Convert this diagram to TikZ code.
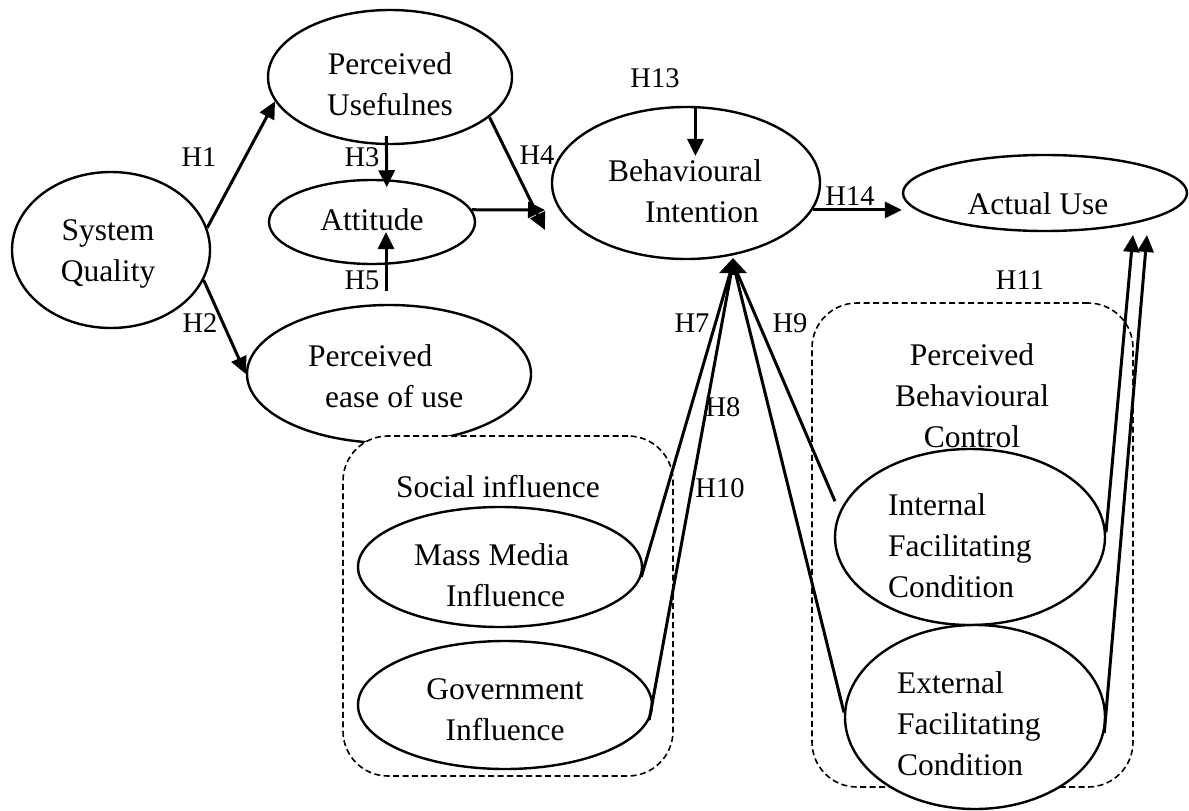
\documentclass[tikz,border=0pt]{standalone}
\usepackage{fontspec}
\setmainfont{Liberation Serif}
\usetikzlibrary{shapes.geometric,arrows.meta,calc}
\newcommand{\bodyfnt}{\fontsize{31.5}{41}\selectfont}
\newcommand{\hypfnt}{\fontsize{28.5}{32}\selectfont}
\begin{document}
\begin{tikzpicture}[x=1pt,y=-1pt,
  ell/.style={draw, ellipse, line width=2.4pt, fill=white, inner sep=0pt},
  dbox/.style={draw, rectangle, dash pattern=on 6pt off 3.5pt, line width=1.6pt, rounded corners=45pt, fill=white, inner sep=0pt},
  txt/.style={font=\bodyfnt, align=center, inner sep=0pt},
  txtl/.style={font=\bodyfnt, align=left, inner sep=0pt, anchor=west},
  hyp/.style={font=\hypfnt, inner sep=0pt},
  ln/.style={line width=3pt},
  arr/.style={line width=3pt, -{Triangle[length=17pt,width=16pt]}},
  fanhead/.style={line width=3pt, -{Triangle[length=15pt,width=27pt]}}
]
\useasboundingbox (0,0) rectangle (1189,811);
% ellipses and groups
\node[ell, minimum width=198pt, minimum height=156pt] (sq) at (111,250) {};
\node[ell, minimum width=244pt, minimum height=134pt] (pu) at (390,77) {};
\node[ell, minimum width=206pt, minimum height=84pt] (att) at (372,222) {};
\node[ell, minimum width=284pt, minimum height=138pt] (peou) at (389,374) {};
\node[ell, minimum width=268pt, minimum height=152pt] (bi) at (686,183) {};
\node[ell, minimum width=284pt, minimum height=76pt] (au) at (1045,193) {};
\node[dbox, minimum width=330pt, minimum height=340pt] (si) at (508,606) {};
\node[ell, minimum width=284pt, minimum height=120pt] (mm) at (500,567) {};
\node[ell, minimum width=294pt, minimum height=128pt] (gov) at (505,705) {};
\node[dbox, minimum width=321pt, minimum height=484pt] (pbc) at (972.5,545) {};
\node[ell, minimum width=270pt, minimum height=176pt] (int) at (970,537) {};
\node[ell, minimum width=260pt, minimum height=184pt] (ext) at (975,717) {};
% texts
\node[txt] (sqt) at (108,254) {System\\Quality};
\node[txt] (put) at (390,84) {Perceived\\Usefulnes};
\node[txt] (attt) at (372,220) {Attitude};
\node[txtl] (peout) at (308,376) {Perceived\\\hspace*{17pt}ease of use};
\node[txtl] (bit) at (608,191) {Behavioural\\\hspace*{37pt}Intention};
\node[txt] (aut) at (1038,204) {Actual Use};
\node[txt] (sit) at (498,487) {Social influence};
\node[txtl] (mmt) at (414,575) {Mass Media\\\hspace*{32pt}Influence};
\node[txt] (govt) at (505,710) {Government\\Influence};
\node[txt] (pbct) at (972,396) {Perceived\\Behavioural\\Control};
\node[txtl] (intt) at (888,546) {Internal\\Facilitating\\Condition};
\node[txtl] (extt) at (897,724) {External\\Facilitating\\Condition};
% hypothesis labels
\node[hyp] (h1) at (199,157) {H1};
\node[hyp] (h2) at (200,323) {H2};
\node[hyp] (h3) at (362,157) {H3};
\node[hyp] (h4) at (537,155) {H4};
\node[hyp] (h5) at (362,280) {H5};
\node[hyp] (h7) at (692,323) {H7};
\node[hyp] (h8) at (723,407) {H8};
\node[hyp] (h9) at (790,323) {H9};
\node[hyp] (h10) at (720,488) {H10};
\node[hyp] (h11) at (1020,280) {H11};
\node[hyp] (h13) at (655,78) {H13};
\node[hyp] (h14) at (850,196) {H14};
% free ends
\coordinate (h4e) at (545,230);
\coordinate (atte) at (545,210);
\coordinate (h5s) at ($(peou.north)+(-3,-13)$);
\coordinate (apex) at (733,263);
\coordinate (fanbase) at (733,275);
\coordinate (fantip) at (733,258);
\coordinate (u1) at (1133,235);
\coordinate (u2) at (1147,235);
% connectors
\draw[arr] (sq.13) -- (pu.192);
\draw[arr] (sq.-18) -- (peou.180);
\draw[arr, shorten <=-9pt, shorten >=-8pt] (pu.267) -- (att.71);
\draw[arr] (pu.-22) -- (h4e);
\draw[arr] (att.7) -- (atte);
\draw[arr, shorten >=10pt] (h5s) -- (h5s |- att.center);
\draw[arr] (bi.83) -- ++(0,50);
\draw[arr] (bi.-12) -- (bi.-12 -| au.west);
\draw[ln] (mm.-4) -- (apex);
\draw[ln] (gov.-6) -- (apex);
\draw[ln] ($(int.165)+(-9,-2)$) -- (apex);
\draw[ln] (ext.178) -- (apex);
\draw[fanhead] (fanbase) -- (fantip);
\draw[arr] (int.2) -- (u1);
\draw[arr] (ext.-7) -- (u2);
\end{tikzpicture}
\end{document}
